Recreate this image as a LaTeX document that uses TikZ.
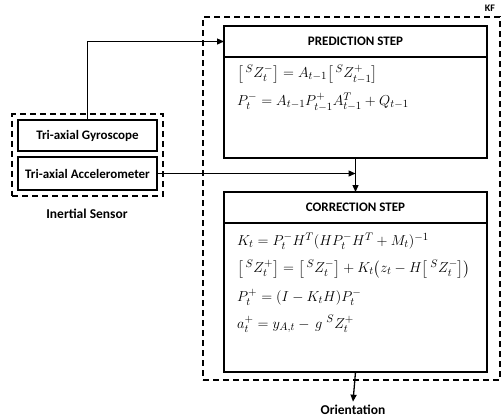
\documentclass[tikz,border=0pt]{standalone}
\usepackage{amsmath}
\usepackage{fontspec}
\setmainfont{Carlito}
\usetikzlibrary{arrows.meta, positioning, fit, calc}

\begin{document}
\begin{tikzpicture}[
  x=1pt, y=-1pt,
  headbox/.style={rectangle, draw, line width=1.8pt, minimum width=263pt, minimum height=31pt, outer sep=0pt, font=\fontsize{13}{15}\selectfont\bfseries},
  bodybox/.style={rectangle, draw, line width=1.8pt, minimum width=263pt, outer sep=0pt},
  sensor/.style={rectangle, draw, line width=1.8pt, minimum width=139pt, minimum height=31pt, font=\fontsize{13}{15}\selectfont\bfseries},
  group/.style={rectangle, draw, dashed, line width=1.4pt, dash pattern=on 6pt off 4pt},
  eq/.style={anchor=west, inner sep=0pt, font=\fontsize{15}{18}\selectfont},
  caption/.style={font=\fontsize{13.5}{16}\selectfont\bfseries},
  arrow/.style={-{Triangle[length=7pt, width=6pt]}, line width=1.3pt}
]
\useasboundingbox (0,0) rectangle (503,418);

% Kalman filter frame
\node[group, minimum width=297pt, minimum height=363pt] (kf) at (351.5,198.5) {};
\node[caption, font=\fontsize{10}{12}\selectfont\bfseries] (kflabel) at (490,8) {KF};

% Prediction step
\node[headbox] (predhead) at (355.5,41.5) {PREDICTION STEP};
\node[bodybox, minimum height=101pt, below=0pt of predhead] (predbody) {};
\node[eq] (predz) at (237,74) {$\bigl[\,{}^{S}Z_t^-\bigr] = A_{t-1}\bigl[\,{}^{S}Z_{t-1}^+\bigr]$};
\node[eq] (predp) at (237,102) {$P_t^- = A_{t-1}P_{t-1}^+A_{t-1}^T + Q_{t-1}$};

% Correction step
\node[headbox] (corrhead) at (355.5,207.5) {CORRECTION STEP};
\node[bodybox, minimum height=149pt, below=0pt of corrhead] (corrbody) {};
\node[eq] (corrk) at (237,241) {$K_t = P_t^- H^T(HP_t^- H^T + M_t)^{-1}$};
\node[eq] (corrz) at (237,269) {$\bigl[\,{}^{S}Z_t^+\bigr] = \bigl[\,{}^{S}Z_t^-\bigr] + K_t\bigl(z_t - H\bigl[\,{}^{S}Z_t^-\bigr]\bigr)$};
\node[eq] (corrp) at (237,297) {$P_t^+ = (I - K_tH)P_t^-$};
\node[eq] (corra) at (237,324) {$a_t^+ = y_{A,t} - \,g\;{}^{S}Z_t^+$};

% Inertial sensor
\node[sensor] (gyro) at (87.5,135.5) {Tri-axial Gyroscope};
\node[sensor, minimum height=33pt] (accel) at (87.5,173.5) {Tri-axial Accelerometer};
\node[group, fit=(gyro)(accel), inner sep=5pt] (imu) {};
\node[caption] (imulabel) at (87,214) {Inertial Sensor};

% Output
\node[caption] (orient) at (353,410) {Orientation};

% Arrows
\coordinate (join) at (predbody.south |- accel.east);
\draw[arrow] (gyro.north) |- (predhead.west);
\draw[arrow] (accel.east) -- (join);
\draw[arrow] (predbody.south) -- (corrhead.north);
\draw[arrow] (corrbody.south) -- (orient.north);

\end{tikzpicture}
\end{document}
